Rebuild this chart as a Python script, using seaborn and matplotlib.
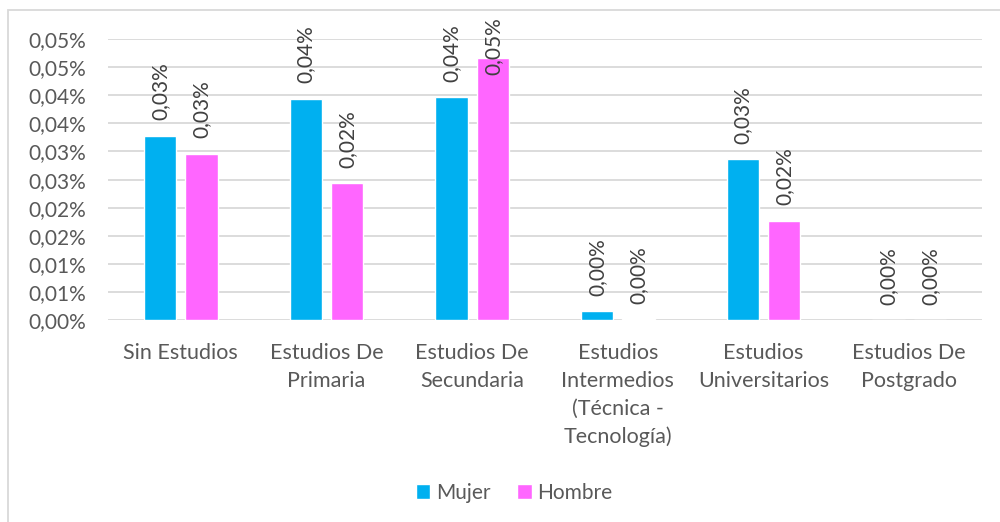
import numpy as np
import pandas as pd
import matplotlib
matplotlib.use("Agg")
import matplotlib.pyplot as plt
import seaborn as sns
from matplotlib.patches import Rectangle
from matplotlib.ticker import FuncFormatter, MultipleLocator

# datos (en %)
categorias = [
    "Sin Estudios",
    "Estudios De\nPrimaria",
    "Estudios De\nSecundaria",
    "Estudios\nIntermedios\n(Técnica -\nTecnología)",
    "Estudios\nUniversitarios",
    "Estudios De\nPostgrado",
]
mujer = [0.0328, 0.0394, 0.0397, 0.00165, 0.0287, 0.0]
hombre = [0.0296, 0.0244, 0.0466, 0.0002, 0.0177, 0.0]
series = ["Mujer", "Hombre"]
colores = ["#00B0F0", "#FF66FF"]


def fmt_pct(v):
    # redondeo tipo Excel (mitad hacia arriba)
    r = np.floor(v * 100 + 0.5 + 1e-9) / 100
    return f"{r:.2f}%".replace(".", ",")


def main():
    df = pd.DataFrame({
        "categoria": categorias * 2,
        "sexo": [series[0]] * len(categorias) + [series[1]] * len(categorias),
        "valor": mujer + hombre,
    })

    sns.set_style("white")
    plt.rcParams["font.family"] = ["Lato", "DejaVu Sans"]

    fig = plt.figure(figsize=(10, 5.22), dpi=100)
    ax = fig.add_axes([0.108, 0.3864, 0.874, 0.539])

    sns.barplot(data=df, x="categoria", y="valor", hue="sexo",
                palette=colores, width=0.572, gap=0.224, ax=ax,
                legend=True, saturation=1)

    ax.set_ylim(0, 0.05)
    ax.yaxis.set_major_locator(MultipleLocator(0.005))
    ax.yaxis.set_major_formatter(FuncFormatter(lambda v, p: fmt_pct(v)))
    ax.grid(axis="y", color="#D9D9D9", linewidth=1.3)
    ax.set_axisbelow(True)
    for s in ax.spines.values():
        s.set_visible(False)

    ax.set_xlabel("")
    ax.set_ylabel("")
    ax.tick_params(axis="y", length=0, pad=16, labelsize=15, labelcolor="#595959")
    ax.tick_params(axis="x", length=0, pad=16, labelsize=15.5, labelcolor="#595959")
    for t in ax.get_xticklabels():
        t.set_linespacing(1.5)

    etiquetas = []
    for cont in ax.containers:
        etiquetas += ax.bar_label(cont, labels=[fmt_pct(v) for v in cont.datavalues],
                                  rotation=90, padding=11, fontsize=15, color="#404040")

    # las etiquetas que se salen por arriba se bajan (como hace Excel)
    fig.canvas.draw()
    rend = fig.canvas.get_renderer()
    limite = fig.bbox.height - 17
    for t in etiquetas:
        bb = t.get_window_extent(rend)
        if bb.y1 > limite:
            dx, dy = t.xyann
            t.xyann = (dx, dy - (bb.y1 - limite) * 72 / fig.dpi)

    handles, labels = ax.get_legend_handles_labels()
    ax.legend(handles, labels, loc="center", bbox_to_anchor=(0.514, 0.056),
              bbox_transform=fig.transFigure, ncol=2, frameon=False,
              fontsize=15, labelcolor="#595959", handlelength=0.7,
              handleheight=0.7, handletextpad=0.25, columnspacing=1.3)

    # borde del área del gráfico
    fig.patches.append(Rectangle((0.008, -0.1), 1.1, 1.081, transform=fig.transFigure,
                                 fill=False, edgecolor="#D9D9D9", linewidth=1.3))

    fig.savefig("out.png", dpi=100)


if __name__ == "__main__":
    main()
